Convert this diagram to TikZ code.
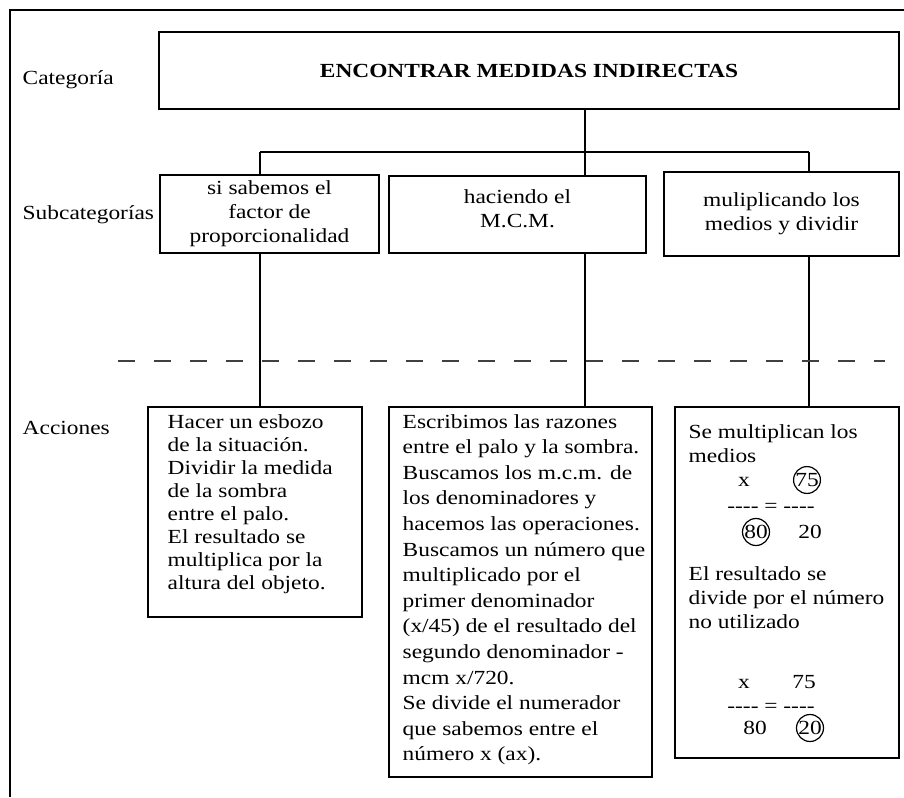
\documentclass[tikz,border=0pt]{standalone}
\usepackage{fontspec}
\setmainfont{Liberation Serif}[FakeStretch=1.17]
\begin{document}
\begin{tikzpicture}[x=0.75pt,y=-0.75pt,line width=1.1pt,
  font=\fontsize{15pt}{18pt}\selectfont,
  box/.style={draw,line width=1.3pt,inner sep=0pt,align=center},
  lbl/.style={anchor=west,inner sep=0pt},
  txt/.style={inner sep=0pt,align=center},
  body/.style={anchor=base west,inner sep=0pt},
  ring/.style={draw,circle,line width=0.9pt,inner sep=0pt,minimum size=16.5pt},
  conn/.style={line width=1.1pt}]
\useasboundingbox (0,0) rectangle (904,797);
% frame
\draw[line width=1.5pt] (10,797) -- (10,10) -- (904,10);
% labels
\node[lbl] (lcat) at (22,80) {Categoría};
\node[lbl] (lsub) at (22,215) {Subcategorías};
\node[lbl] (lacc) at (22,428) {Acciones};
% title
\node[box,minimum width=555pt,minimum height=57.75pt,font=\fontsize{15pt}{18pt}\selectfont\bfseries] (title) at (529,70.5) {ENCONTRAR MEDIDAS INDIRECTAS};
% subcategories
\node[box,minimum width=164.25pt,minimum height=58.5pt] (s1) at (269.5,214) {si sabemos el\\factor de\\proporcionalidad};
\node[box,minimum width=192.75pt,minimum height=57.75pt] (s2) at (517.5,214.5) {};
\node[txt] (s2t) at (517.5,209) {haciendo el\\M.C.M.};
\node[box,minimum width=176.25pt,minimum height=63pt] (s3) at (781.5,214) {muliplicando los\\medios y dividir};
% actions
\node[box,minimum width=160.5pt,minimum height=157.5pt] (a1) at (255,512) {};
\node[box,minimum width=197.25pt,minimum height=277.5pt] (a2) at (520.5,592) {};
\node[box,minimum width=168pt,minimum height=263.25pt] (a3) at (787,582.5) {};
% tree coordinates
\coordinate (hL) at (260,152);
\coordinate (hM) at (585,152);
\coordinate (hR) at (809,152);
\draw[conn] (hM |- title.south) -- (hM);
\draw[conn] (hL) -- (hR);
\draw[conn] (hL) -- (hL |- s1.north);
\draw[conn] (hM) -- (hM |- s2.north);
\draw[conn] (hR) -- (hR |- s3.north);
\draw[conn] (hL |- s1.south) -- (hL |- a1.north);
\draw[conn] (hM |- s2.south) -- (hM |- a2.north);
\draw[conn] (hR |- s3.south) -- (hR |- a3.north);
% dashed separator
\coordinate (dl) at (118,361);
\coordinate (dr) at (885,361);
\draw[black!75,line width=1.5pt,dash pattern=on 12.75pt off 14.25pt] (dl) -- (dr);
% action texts
\node[body] (a1t) at (167,428) {\parbox[t]{150pt}{\raggedright\baselineskip=17.25pt
Hacer un esbozo\\de la situación.\\Dividir la medida\\de la sombra\\entre el palo.\\El resultado se\\multiplica por la\\altura del objeto.}};
\node[body] (a2t) at (402,428) {\parbox[t]{190pt}{\raggedright\baselineskip=19.2pt
Escribimos las razones\\entre el palo y la sombra.\\Buscamos los m.c.m. de\\los denominadores y\\hacemos las operaciones.\\Buscamos un número que\\multiplicado por el\\primer denominador\\(x/45) de el resultado del\\segundo denominador -\\mcm x/720.\\Se divide el numerador\\que sabemos entre el\\número x (ax).}};
\node[body] (a3t) at (688,438) {\parbox[t]{162pt}{\raggedright\baselineskip=18pt
Se multiplican los\\medios}};
\node[body] (a3u) at (688,580) {\parbox[t]{162pt}{\raggedright\baselineskip=18pt
El resultado se\\divide por el número\\no utilizado}};
% first proportion
\node[txt] (p1x) at (744,482) {x};
\node[ring] (p1a) at (807,480) {75};
\node[txt] (p1l) at (771,508) {-{}-{}-{}- = -{}-{}-{}-};
\node[ring] (p1b) at (756,532) {80};
\node[txt] (p1c) at (810,532) {20};
% second proportion
\node[txt] (p2x) at (744,684) {x};
\node[txt] (p2a) at (804,682) {75};
\node[txt] (p2l) at (771,708) {-{}-{}-{}- = -{}-{}-{}-};
\node[txt] (p2b) at (755,728) {80};
\node[ring] (p2c) at (810,728) {20};
\end{tikzpicture}
\end{document}
